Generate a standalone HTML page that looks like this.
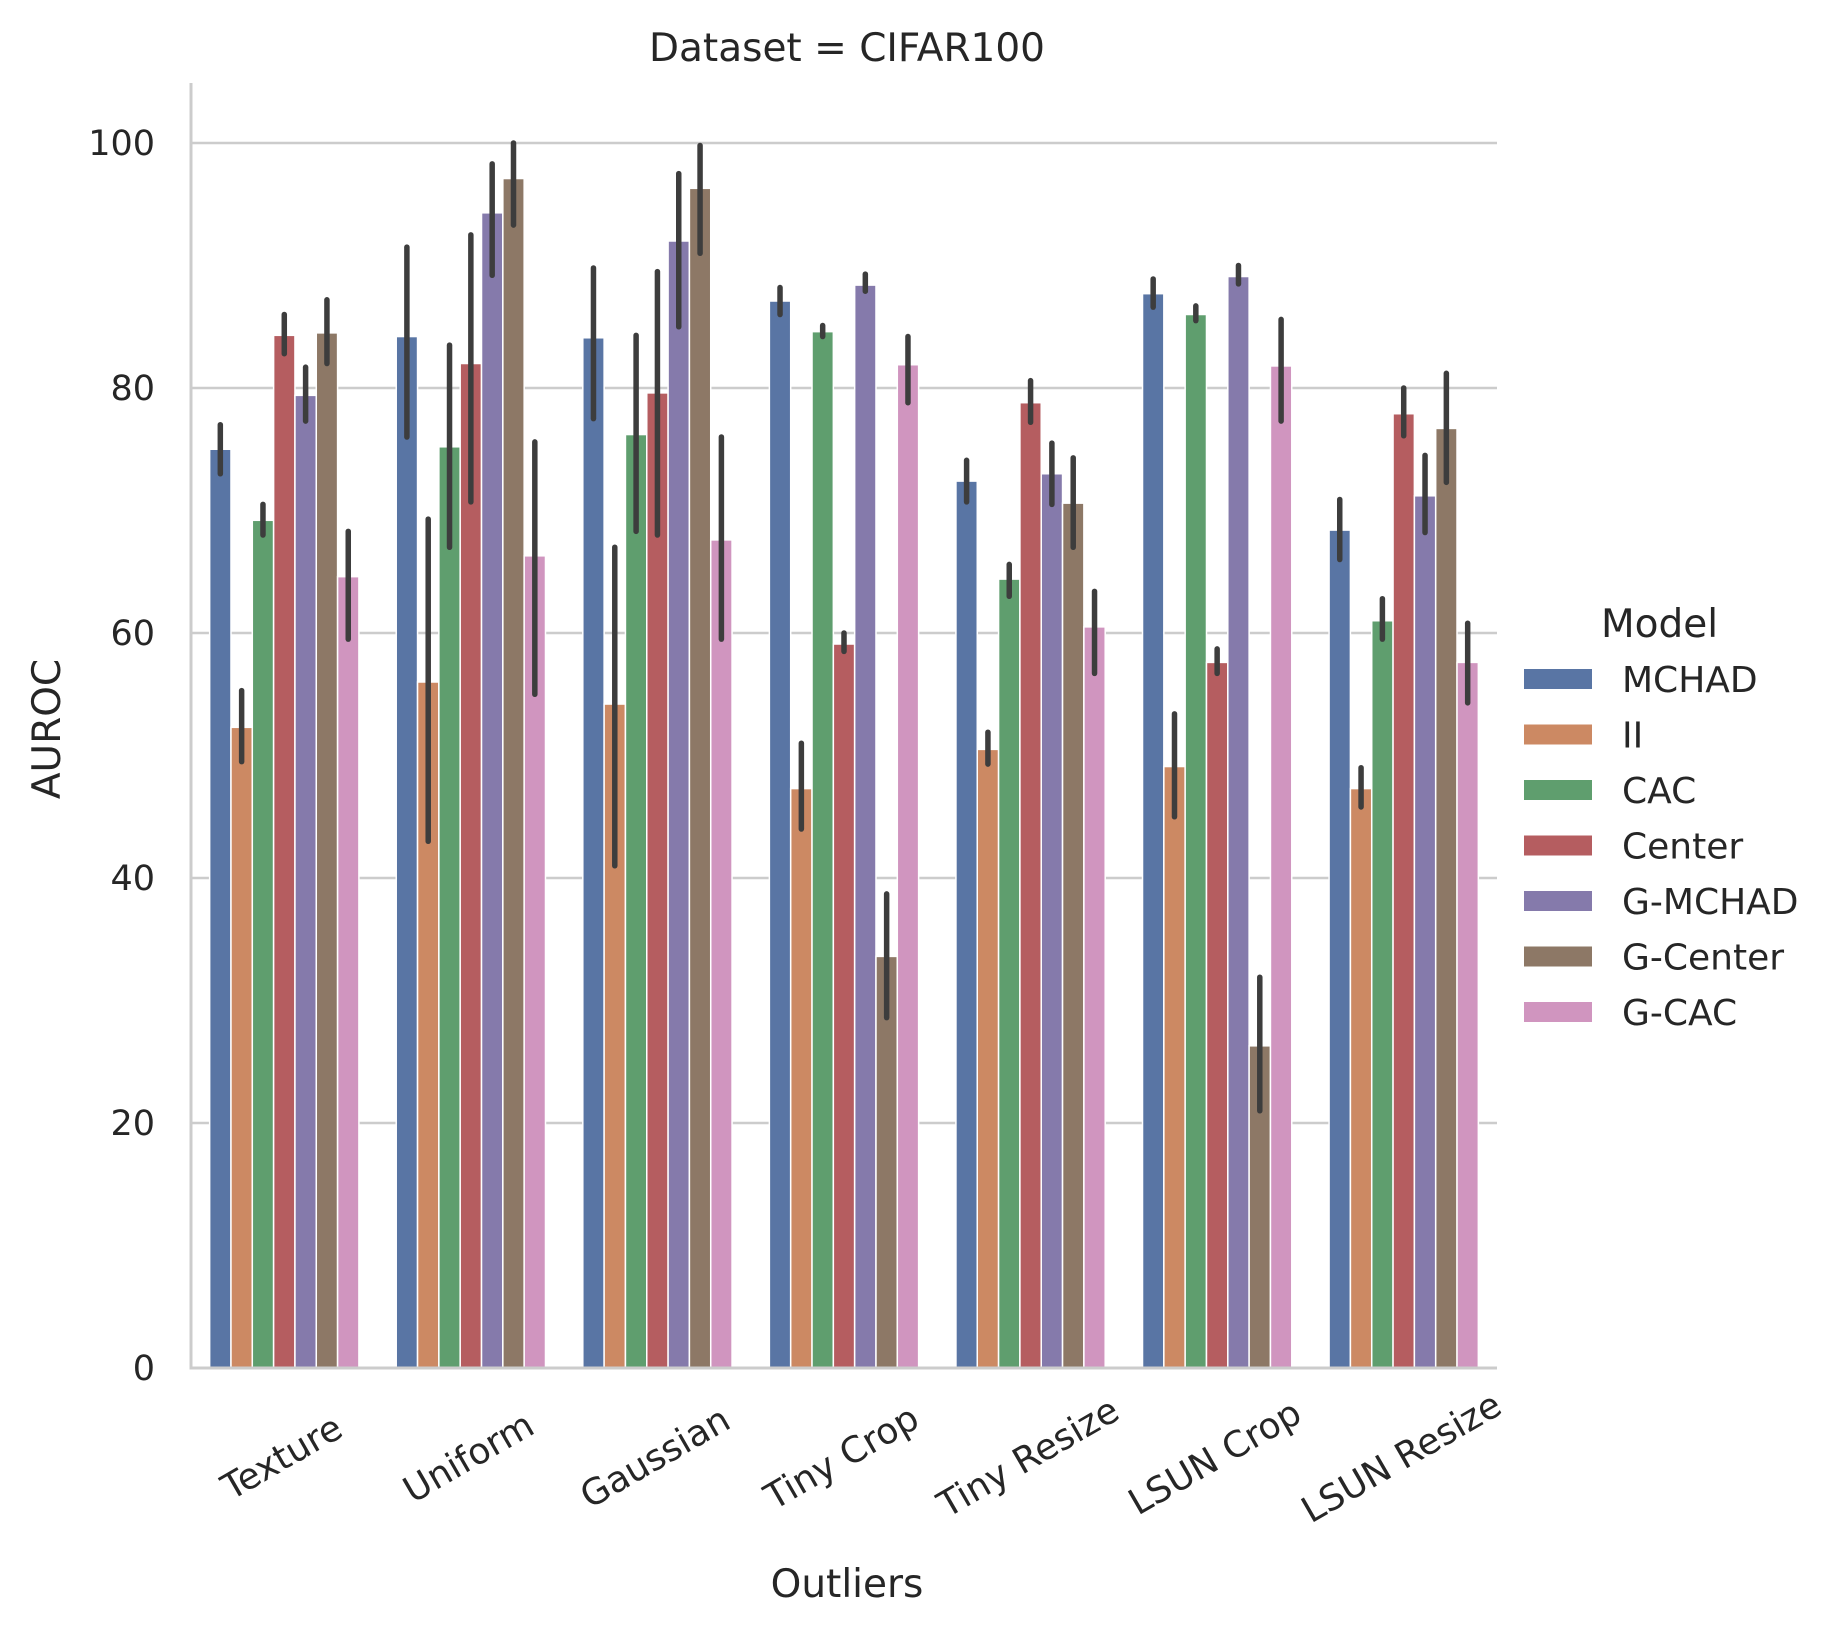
<!DOCTYPE html>
<html><head><meta charset="utf-8"><style>
html,body{margin:0;padding:0;background:#fff;}
svg{display:block;font-family:"DejaVu Sans","Liberation Sans",sans-serif;}
</style></head><body>
<svg id="chart" width="1835" height="1635" viewBox="0 0 1835 1635" xmlns="http://www.w3.org/2000/svg">
<text x="847" y="61" font-size="39" text-anchor="middle" fill="#262626">Dataset = CIFAR100</text>
<g id="grid"></g>
<g id="bars"></g>
<g id="errs"></g>
<line x1="191" y1="83" x2="191" y2="1369" stroke="#cccccc" stroke-width="3"/>
<line x1="189.5" y1="1368" x2="1497" y2="1368" stroke="#cccccc" stroke-width="3"/>
<g id="yticks"></g>
<g id="xticks"></g>
<text x="0" y="0" font-size="39" text-anchor="middle" fill="#262626" transform="translate(60,729) rotate(-90)">AUROC</text>
<text x="847" y="1597" font-size="39" text-anchor="middle" fill="#262626">Outliers</text>
<g id="legend">
<text x="1601" y="637" font-size="39" fill="#262626">Model</text>
</g>
</svg>
<script>
const categories = ["Texture","Uniform","Gaussian","Tiny Crop","Tiny Resize","LSUN Crop","LSUN Resize"];
const models = ["MCHAD","II","CAC","Center","G-MCHAD","G-Center","G-CAC"];
const colors = ["#5975a4","#cc8963","#5f9e6e","#b55d60","#857aab","#8d7866","#d095bf"];
const yTicks = [0,20,40,60,80,100];
const values = [
 [75.0,84.2,84.1,87.1,72.4,87.7,68.4],
 [52.3,56.0,54.2,47.3,50.5,49.1,47.3],
 [69.2,75.2,76.2,84.6,64.4,86.0,61.0],
 [84.3,82.0,79.6,59.1,78.8,57.6,77.9],
 [79.4,94.3,92.0,88.4,73.0,89.1,71.2],
 [84.5,97.1,96.3,33.6,70.6,26.3,76.7],
 [64.6,66.3,67.6,81.9,60.5,81.8,57.6]
];
const errLow = [
 [73.0,76.0,77.5,86.0,70.7,86.6,66.0],
 [49.5,43.0,41.0,44.0,49.3,45.0,45.8],
 [68.0,67.0,68.3,84.2,63.0,85.5,59.5],
 [82.8,70.7,68.0,58.5,77.2,56.7,76.1],
 [77.3,89.2,85.0,87.9,70.5,88.5,68.2],
 [82.0,93.3,91.0,28.6,67.0,21.0,72.3],
 [59.5,55.0,59.5,78.8,56.7,77.3,54.3]
];
const errHigh = [
 [77.0,91.5,89.8,88.2,74.1,88.9,70.9],
 [55.3,69.3,67.0,51.0,51.9,53.4,49.0],
 [70.5,83.5,84.3,85.1,65.6,86.7,62.8],
 [86.0,92.5,89.5,60.0,80.6,58.7,80.0],
 [81.7,98.3,97.5,89.3,75.5,90.0,74.5],
 [87.2,100.0,99.8,38.7,74.3,31.9,81.2],
 [68.3,75.6,76.0,84.2,63.4,85.6,60.8]
];
const NS="http://www.w3.org/2000/svg";
const X0=191, X1=1497, Y0=1368, Y100=143;
const step=(X1-X0)/categories.length, bw=step*0.8/models.length;
const y=v=>Y0+(Y100-Y0)*v/100;
const xc=i=>X0+step*(i+0.5);
function mk(tag,attrs,parent){const e=document.createElementNS(NS,tag);for(const k in attrs)e.setAttribute(k,attrs[k]);parent.appendChild(e);return e;}
const grid=document.getElementById('grid'), yt=document.getElementById('yticks');
yTicks.forEach(t=>{
  if(t>0){const l=mk('line',{x1:X0,x2:X1,y1:y(t),y2:y(t),stroke:'#cccccc','stroke-width':2.5},grid);
  
  }
  const tx=mk('text',{x:155,y:y(t)+12,'font-size':35,'text-anchor':'end',fill:'#262626'},yt);
  tx.textContent=t;
  
  
});
const bars=document.getElementById('bars'), errs=document.getElementById('errs'), xt=document.getElementById('xticks');
categories.forEach((c,i)=>{
  models.forEach((m,j)=>{
    const left=xc(i)-step*0.4+j*bw;
    const r=mk('rect',{x:left,y:y(values[j][i]),width:bw,height:Y0-y(values[j][i]),fill:colors[j],stroke:'#fff','stroke-width':1.5},bars);
    
    
    const e=mk('line',{x1:left+bw/2,x2:left+bw/2,y1:y(errLow[j][i]),y2:y(errHigh[j][i]),stroke:'#3d3d3d','stroke-width':5.5,'stroke-linecap':'round'},errs);
    
    
  });
  const t=mk('text',{x:0,y:0,'font-size':36,'text-anchor':'middle','dominant-baseline':'central',fill:'#262626',transform:`translate(${xc(i)-2},1458) rotate(-30)`},xt);
  t.textContent=c;
  
  
});
const lg=document.getElementById('legend');
models.forEach((m,j)=>{
  const yy=679+j*55.5;
  const r=mk('rect',{x:1524,y:yy-10,width:68,height:20,fill:colors[j]},lg);
  
  
  const t=mk('text',{x:1622,y:yy+13,'font-size':36,fill:'#262626'},lg);
  t.textContent=m;
  
  
});
</script>
</body></html>
